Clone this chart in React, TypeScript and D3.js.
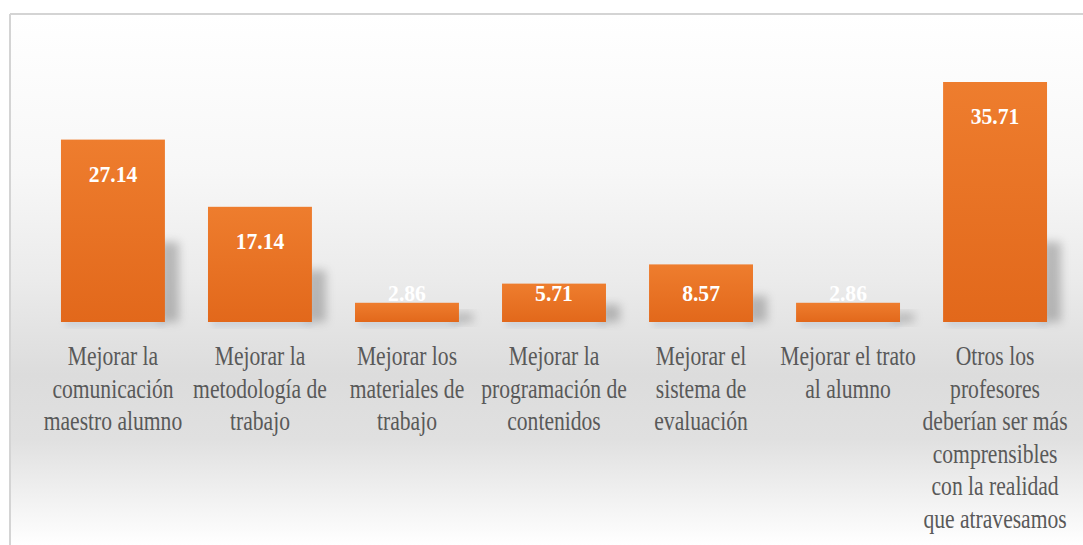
import React from "react";
import * as d3 from "d3";

const categories: string[][] = [
  ["Mejorar la", "comunicación", "maestro alumno"],
  ["Mejorar la", "metodología de", "trabajo"],
  ["Mejorar los", "materiales de", "trabajo"],
  ["Mejorar la", "programación de", "contenidos"],
  ["Mejorar el", "sistema de", "evaluación"],
  ["Mejorar el trato", "al alumno"],
  ["Otros los", "profesores", "deberían ser más", "comprensibles", "con la realidad", "que atravesamos"],
];
const values: number[] = [27.14, 17.14, 2.86, 5.71, 8.57, 2.86, 35.71];

const W = 1083;
const H = 545;
const baseline = 322;
const SERIF = "Liberation Serif, Tinos, Times New Roman, DejaVu Serif, serif";

export default function App() {
  const idx = categories.map((_, i) => String(i));
  const x = d3.scaleBand<string>().domain(idx).range([39.5, 1068.5]).paddingInner(0.293).paddingOuter(0.146);
  const y = d3.scaleLinear().domain([0, 35.71]).range([baseline, 82]);
  const bw = x.bandwidth();

  return (
    <svg width={W} height={H} style={{ position: "absolute", left: 0, top: 0 }}>
      <defs>
        <linearGradient id="bg" x1="0" y1="0" x2="0" y2="1">
          <stop offset="0%" stopColor="#ffffff" />
          <stop offset="30%" stopColor="#f7f7f7" />
          <stop offset="50%" stopColor="#ebebeb" />
          <stop offset="68%" stopColor="#dcdcdc" />
          <stop offset="80%" stopColor="#e0e0e0" />
          <stop offset="100%" stopColor="#ffffff" />
        </linearGradient>
        <linearGradient id="bar" x1="0" y1="0" x2="0" y2="1">
          <stop offset="0%" stopColor="#ee7d2e" />
          <stop offset="100%" stopColor="#e2681b" />
        </linearGradient>
        <filter id="blur" x="-50%" y="-50%" width="200%" height="200%">
          <feGaussianBlur stdDeviation="5" />
        </filter>
        <filter id="blur2" x="-50%" y="-50%" width="200%" height="200%">
          <feGaussianBlur stdDeviation="3" />
        </filter>
      </defs>
      <rect x={0} y={0} width={W} height={H} fill="#ffffff" />
      <rect x={10} y={14} width={W - 10} height={H - 14} fill="url(#bg)" />
      <line x1={10} y1={14} x2={W} y2={14} stroke="#d4d4d4" strokeWidth={2} />
      <line x1={10} y1={14} x2={10} y2={H} stroke="#d4d4d4" strokeWidth={2} />

      {values.map((v, i) => {
        const x0 = x(String(i))!;
        const top = y(v);
        const h = baseline - top;
        const sh = Math.min(h * 0.45, 80);
        return (
          <g key={"s" + i}>
            <rect x={x0 + bw - 6} y={baseline - sh} width={20} height={sh} fill="#555" opacity={0.35} filter="url(#blur)" />
            <rect x={x0 + 4} y={baseline - 2} width={bw - 4} height={6} fill="#8fa2b8" opacity={0.35} filter="url(#blur2)" />
          </g>
        );
      })}

      {values.map((v, i) => {
        const x0 = x(String(i))!;
        const top = y(v);
        return <rect key={"b" + i} x={x0} y={top} width={bw} height={baseline - top} fill="url(#bar)" />;
      })}

      {values.map((v, i) => {
        const cx = x(String(i))! + bw / 2;
        const top = y(v);
        const by = Math.min(top + 42, 301);
        return (
          <g key={"v" + i} transform={`translate(${cx},${by}) scale(0.9,1)`}>
            <text textAnchor="middle" style={{ fontFamily: SERIF }} fontWeight="bold" fontSize={24} fill="#ffffff">
              {v.toFixed(2)}
            </text>
          </g>
        );
      })}

      {categories.map((lines, i) => {
        const cx = x(String(i))! + bw / 2;
        return lines.map((ln, j) => (
          <g key={"c" + i + "-" + j} transform={`translate(${cx},${365 + j * 32.6}) scale(0.8,1)`}>
            <text textAnchor="middle" style={{ fontFamily: SERIF }} fontSize={27} fill="#595959">
              {ln}
            </text>
          </g>
        ));
      })}
    </svg>
  );
}
